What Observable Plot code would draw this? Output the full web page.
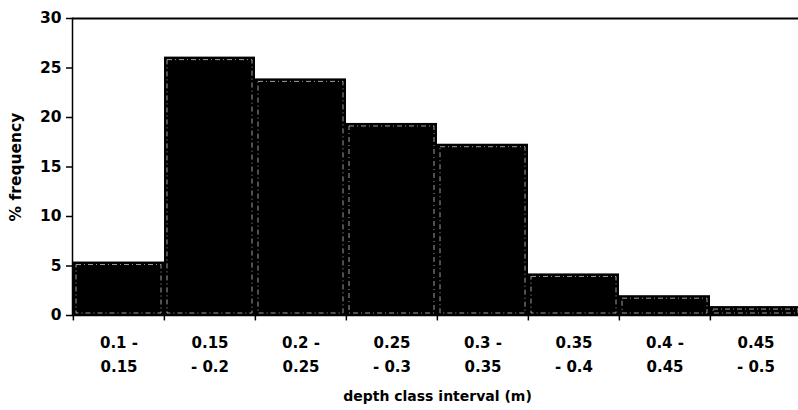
<!DOCTYPE html>
<html>
<head>
<meta charset="utf-8">
<script src="https://cdn.jsdelivr.net/npm/d3@7"></script>
<script src="https://cdn.jsdelivr.net/npm/@observablehq/plot@0.6"></script>
<style>
  html, body { margin: 0; padding: 0; background: #fff; }
  #chart { width: 798px; height: 410px; }
</style>
</head>
<body>
<div id="chart"></div>
<script>
// depth classes (m)
const classes = ["0.1-0.15", "0.15-0.2", "0.2-0.25", "0.25-0.3", "0.3-0.35", "0.35-0.4", "0.4-0.45", "0.45-0.5"];
// tick labels (two lines each)
const tickLines = [
  "0.1 -\n0.15", "0.15\n- 0.2", "0.2 -\n0.25", "0.25\n- 0.3",
  "0.3 -\n0.35", "0.35\n- 0.4", "0.4 -\n0.45", "0.45\n- 0.5"
];
// % frequency
const freq = [5.4, 26.1, 23.9, 19.4, 17.3, 4.2, 2.0, 0.9];
const yTicks = [0, 5, 10, 15, 20, 25, 30];

const data = classes.map((c, i) => ({cls: c, f: freq[i]}));
const labelOf = new Map(classes.map((c, i) => [c, tickLines[i]]));

const W = 798, ML = 72, MR = -4;
const bw = (W - MR - ML) / classes.length;

const chart = Plot.plot({
  width: W,
  height: 410,
  marginLeft: ML,
  marginRight: MR,
  marginTop: 18,
  marginBottom: 95,
  style: {fontFamily: "'DejaVu Sans', sans-serif", fontWeight: "bold", fontSize: "14px", color: "#000", background: "#fff"},
  x: {domain: classes, padding: 0},
  y: {domain: [0, 30]},
  marks: [
    Plot.barY(data, {x: "cls", y: "f", fill: "#000"}),
    Plot.barY(data, {x: "cls", y: "f", fill: "none", stroke: "#c8c8c8", strokeWidth: 0.8, strokeDasharray: "5,3,1,3", insetLeft: 3, insetRight: 3, insetTop: 3, insetBottom: 2}),
    Plot.ruleY([30], {stroke: "#000", strokeWidth: 2}),
    Plot.ruleY([0], {stroke: "#000", strokeWidth: 1.5}),
    Plot.frame({anchor: "left", stroke: "#000", strokeWidth: 1.5}),
    // x tick marks at band boundaries
    Plot.ruleX(classes, {x: d => d, dx: -bw / 2, y1: 0, y2: -0.55, stroke: "#000", strokeWidth: 1.5}),
    Plot.axisY({
      ticks: yTicks, tickSize: 6, tickPadding: 5, stroke: "#000", strokeWidth: 1.5,
      fontSize: 15.5, label: null
    }),
    Plot.axisX({
      tickSize: 0, tickPadding: 15,
      tickFormat: d => labelOf.get(d), lineHeight: 1.6, fontSize: 15,
      label: null
    }),
    Plot.text(["% frequency"], {frameAnchor: "left", textAnchor: "middle", dx: -56, rotate: -90, fontSize: 15.5, fontWeight: "bold", fill: "#000"}),
    Plot.text(["depth class interval (m)"], {frameAnchor: "bottom", textAnchor: "middle", dy: 85, fontSize: 14, fontWeight: "bold", fill: "#000"})
  ]
});
document.getElementById("chart").appendChild(chart);
</script>
</body>
</html>
